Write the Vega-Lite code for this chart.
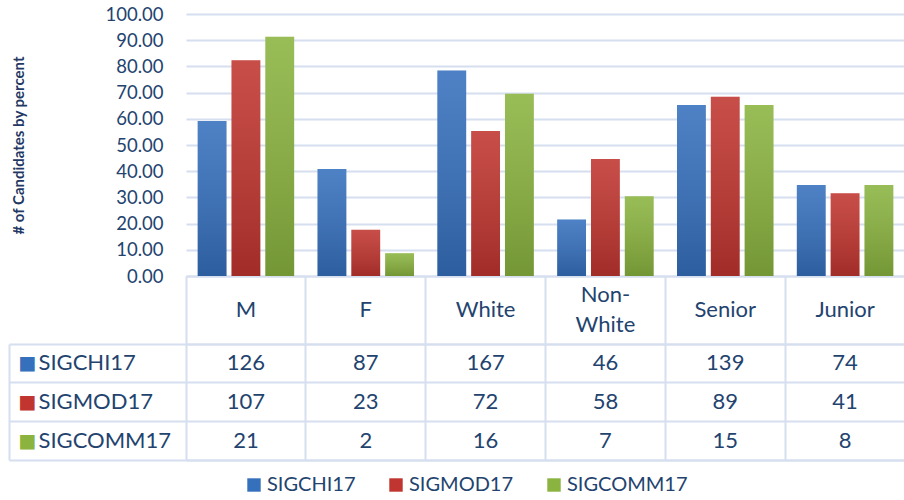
{
  "$schema": "https://vega.github.io/schema/vega-lite/v6.json",
  "padding": {"left": 8, "top": 5, "right": 0, "bottom": 0},
  "background": "white",
  "config": {"view": {"stroke": null}, "font": "Lato"},
  "data": {"values": [
    {"category": "M", "series": "SIGCHI17", "count": 126, "pct": 59.15},
    {"category": "F", "series": "SIGCHI17", "count": 87, "pct": 40.85},
    {"category": "White", "series": "SIGCHI17", "count": 167, "pct": 78.40},
    {"category": "Non-White", "series": "SIGCHI17", "count": 46, "pct": 21.60},
    {"category": "Senior", "series": "SIGCHI17", "count": 139, "pct": 65.26},
    {"category": "Junior", "series": "SIGCHI17", "count": 74, "pct": 34.74},
    {"category": "M", "series": "SIGMOD17", "count": 107, "pct": 82.31},
    {"category": "F", "series": "SIGMOD17", "count": 23, "pct": 17.69},
    {"category": "White", "series": "SIGMOD17", "count": 72, "pct": 55.38},
    {"category": "Non-White", "series": "SIGMOD17", "count": 58, "pct": 44.62},
    {"category": "Senior", "series": "SIGMOD17", "count": 89, "pct": 68.46},
    {"category": "Junior", "series": "SIGMOD17", "count": 41, "pct": 31.54},
    {"category": "M", "series": "SIGCOMM17", "count": 21, "pct": 91.30},
    {"category": "F", "series": "SIGCOMM17", "count": 2, "pct": 8.70},
    {"category": "White", "series": "SIGCOMM17", "count": 16, "pct": 69.57},
    {"category": "Non-White", "series": "SIGCOMM17", "count": 7, "pct": 30.43},
    {"category": "Senior", "series": "SIGCOMM17", "count": 15, "pct": 65.22},
    {"category": "Junior", "series": "SIGCOMM17", "count": 8, "pct": 34.78}
  ]},
  "bounds": "flush",
  "spacing": 68,
  "resolve": {"scale": {"color": "shared"}},
  "vconcat": [
    {
      "width": 719,
      "height": 262,
      "encoding": {
        "x": {
          "field": "category", "type": "nominal",
          "sort": ["M", "F", "White", "Non-White", "Senior", "Junior"],
          "scale": {"paddingInner": 0, "paddingOuter": 0},
          "axis": {
            "title": null, "orient": "bottom",
            "bandPosition": 1, "tickExtra": true,
            "tickSize": 68, "tickColor": "#D5DFEF", "tickWidth": 2,
            "domain": true, "domainColor": "#D5DFEF", "domainWidth": 2,
            "grid": false,
            "labelAngle": 0, "labelFontSize": 22, "labelColor": "#23436F",
            "labelPadding": {"condition": {"test": "datum.value == 'Non-White'", "value": -50}, "value": -35},
            "labelBaseline": "middle", "labelLineHeight": 30,
            "labelExpr": "datum.value == 'Non-White' ? ['Non-', 'White'] : datum.value"
          }
        },
        "xOffset": {
          "field": "series", "type": "nominal",
          "sort": ["SIGCHI17", "SIGMOD17", "SIGCOMM17"],
          "scale": {"paddingInner": 0.147, "paddingOuter": 0.345}
        },
        "y": {
          "field": "pct", "type": "quantitative",
          "scale": {"domain": [0, 100], "nice": false},
          "axis": {
            "title": "# of Candidates by percent",
            "titleFontSize": 15, "titleFontWeight": "bold", "titleColor": "#1F3864",
            "titlePadding": 78,
            "values": [0, 10, 20, 30, 40, 50, 60, 70, 80, 90, 100],
            "format": ".2f",
            "labelFontSize": 18.5, "labelColor": "#23436F", "labelPadding": 23,
            "ticks": false, "domain": false,
            "grid": true, "gridColor": "#D5DFEF", "gridWidth": 2
          }
        }
      },
      "layer": [
        {
          "mark": {"type": "bar"},
          "encoding": {
            "color": {
              "field": "series", "type": "nominal",
              "sort": ["SIGCHI17", "SIGMOD17", "SIGCOMM17"],
              "scale": {"domain": ["SIGCHI17", "SIGMOD17", "SIGCOMM17"], "range": ["#3570BD", "#C0352F", "#8AB33F"]},
              "legend": {
                "orient": "none", "legendX": 58, "legendY": 461,
                "direction": "horizontal", "title": null,
                "symbolType": "square", "symbolSize": 180, "symbolStrokeWidth": 0,
                "labelFontSize": 20, "labelColor": "#23436F", "labelOffset": 3,
                "columnPadding": 30
              }
            }
          }
        },
        {
          "mark": {
            "type": "bar",
            "color": {
              "gradient": "linear", "x1": 0, "y1": 0, "x2": 0, "y2": 1,
              "stops": [
                {"offset": 0, "color": "rgba(255,255,255,0.12)"},
                {"offset": 1, "color": "rgba(0,0,0,0.16)"}
              ]
            }
          }
        }
      ]
    },
    {
      "width": 719,
      "height": 116,
      "resolve": {"axis": {"x": "independent", "y": "independent"}},
      "layer": [
        {
          "mark": {"type": "text", "fontSize": 22, "color": "#23436F", "baseline": "middle"},
          "encoding": {
            "x": {
              "field": "category", "type": "nominal",
              "sort": ["M", "F", "White", "Non-White", "Senior", "Junior"],
              "scale": {"paddingInner": 0, "paddingOuter": 0},
              "axis": {
                "title": null, "orient": "bottom", "labels": false, "ticks": false,
                "domain": true, "domainColor": "#D5DFEF", "domainWidth": 2,
                "grid": true, "bandPosition": 1, "gridColor": "#D5DFEF", "gridWidth": 2
              }
            },
            "y": {
              "field": "series", "type": "nominal",
              "sort": ["SIGCHI17", "SIGMOD17", "SIGCOMM17"],
              "scale": {"paddingInner": 0, "paddingOuter": 0},
              "axis": {
                "title": null, "orient": "left",
                "bandPosition": 1, "tickExtra": true,
                "tickSize": 177, "tickColor": "#D5DFEF", "tickWidth": 2,
                "domain": true, "domainColor": "#D5DFEF", "domainWidth": 2,
                "grid": true, "gridColor": "#D5DFEF", "gridWidth": 2,
                "labelAlign": "left", "labelBaseline": "middle", "labelPadding": -29,
                "labelFontSize": 22, "labelColor": "#23436F"
              }
            },
            "text": {"field": "count", "type": "quantitative"}
          }
        },
        {
          "mark": {"type": "tick", "opacity": 0},
          "encoding": {
            "x": {
              "field": "category", "type": "nominal",
              "sort": ["M", "F", "White", "Non-White", "Senior", "Junior"],
              "axis": {
                "title": null, "orient": "top", "labels": false, "ticks": false,
                "domain": true, "domainColor": "#D5DFEF", "domainWidth": 2, "grid": false
              }
            },
            "y": {
              "field": "series", "type": "nominal",
              "sort": ["SIGCHI17", "SIGMOD17", "SIGCOMM17"],
              "axis": {
                "title": null, "orient": "left", "offset": 177,
                "ticks": false, "grid": false,
                "domain": true, "domainColor": "#D5DFEF", "domainWidth": 2,
                "labelExpr": "'■'", "labelFont": "DejaVu Sans", "labelFontSize": 19,
                "labelAlign": "left", "labelBaseline": "middle", "labelPadding": -9,
                "labelColor": {"expr": "datum.value === 'SIGCHI17' ? '#3570BD' : datum.value === 'SIGMOD17' ? '#C0352F' : '#8AB33F'"}
              }
            }
          }
        }
      ]
    }
  ]
}
